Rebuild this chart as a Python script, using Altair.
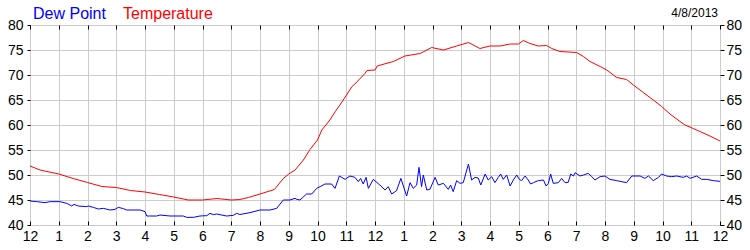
import altair as alt
import pandas as pd

# Temperature readings (hour of day, degrees F)
temp_hours = [0, 0.35, 1.0, 1.5, 2.0, 2.5, 3.0, 3.5, 4.0, 4.5, 5.0, 5.5, 6.0, 6.5, 7.0, 7.3, 7.6,
              8.0, 8.5, 8.81, 9.0, 9.22, 9.51, 9.74, 10.0, 10.15, 10.43, 10.62, 10.78, 11.01, 11.2, 11.3,
              11.65, 11.72, 12.0, 12.08, 12.32, 12.64, 13.04, 13.57, 13.97, 14.38, 14.84, 15.25,
              15.65, 16.0, 16.35, 16.7, 16.99, 17.16, 17.39, 17.68, 17.97, 18.15, 18.43, 19.01,
              19.25, 19.48, 19.83, 20.06, 20.41, 20.75, 20.99, 21.33, 21.68, 21.97, 22.26, 22.61,
              22.78, 23.07, 23.30, 23.65, 24.0]
temp_values = [51.8, 51.0, 50.2, 49.3, 48.5, 47.7, 47.5, 46.9, 46.6, 46.1, 45.6, 45.0, 45.0, 45.3, 45.0, 45.1, 45.5,
               46.2, 47.1, 49.3, 50.2, 51.0, 53.0, 55.1, 57.0, 59.0, 61.0, 62.7, 64.0, 66.0, 67.7, 68.2,
               70.3, 70.9, 71.0, 71.8, 72.2, 72.7, 73.8, 74.3, 75.5, 75.0, 75.8, 76.5,
               75.3, 75.8, 75.8, 76.2, 76.2, 76.9, 76.3, 75.8, 75.9, 75.3, 74.7, 74.5,
               73.7, 72.7, 71.7, 71.0, 69.5, 69.1, 68.0, 66.5, 65.0, 63.7, 62.2, 60.7,
               60.0, 59.3, 58.7, 57.8, 56.8]

# Dew point readings (hour of day, degrees F)
dew_hours = [0, 0.23, 0.52, 0.70, 1.04, 1.28, 1.45, 1.53, 1.68, 1.97, 2.03, 2.20, 2.38, 2.55, 2.78, 2.96,
             3.07, 3.25, 3.36, 3.83, 4.0, 4.06, 4.41, 4.52, 4.87, 5.33, 5.45, 5.68, 5.91, 6.15, 6.26,
             6.38, 6.49, 6.84, 7.07, 7.19, 7.30, 7.65, 8.0, 8.35, 8.58, 8.81, 9.04, 9.22, 9.28, 9.39,
             9.62, 9.80, 9.97, 10.09, 10.26, 10.49, 10.61, 10.76, 10.96, 11.13, 11.30, 11.42, 11.50,
             11.59, 11.69, 11.77, 11.94, 12.17, 12.35, 12.46, 12.58, 12.75, 12.90, 13.10, 13.22,
             13.33, 13.45, 13.53, 13.62, 13.68, 13.80, 13.91, 14.09, 14.20, 14.38, 14.55, 14.63,
             14.72, 14.84, 14.96, 15.07, 15.25, 15.36, 15.48, 15.59, 15.68, 15.83, 15.94, 16.06,
             16.17, 16.29, 16.37, 16.46, 16.58, 16.70, 16.81, 16.93, 17.02, 17.10, 17.22, 17.33,
             17.41, 17.51, 17.68, 17.86, 17.95, 18.03, 18.11, 18.20, 18.38, 18.49, 18.61, 18.72,
             18.81, 18.90, 18.96, 19.13, 19.25, 19.42, 19.54, 19.65, 19.83, 20.0, 20.17, 20.41,
             20.75, 20.93, 21.22, 21.39, 21.51, 21.68, 21.86, 21.97, 22.14, 22.32, 22.49, 22.72,
             22.84, 22.96, 23.19, 23.36, 23.54, 23.77, 24.0]
dew_values = [44.8, 44.67, 44.47, 44.67, 44.67, 44.33, 43.8, 44.13, 43.8, 43.67, 43.8, 43.53, 43.2, 43.33, 43.0, 43.13,
              43.53, 43.27, 43.0, 43.0, 42.67, 41.8, 41.8, 42.0, 41.8, 41.8, 41.53, 41.53, 41.8, 41.87, 42.33,
              42.07, 42.2, 41.8, 41.93, 42.33, 42.1, 42.47, 43.0, 43.0, 43.33, 45.0, 45.0, 45.33, 45.13, 45.0,
              46.2, 46.2, 47.33, 47.67, 48.2, 48.2, 47.33, 49.8, 49.13, 49.8, 49.53, 48.67, 49.33,
              48.2, 49.53, 47.33, 49.13, 48.0, 47.0, 47.67, 46.2, 46.87, 49.33, 45.8, 48.47,
              47.33, 48.0, 51.53, 47.67, 50.0, 47.0, 47.13, 49.53, 48.0, 48.33, 47.13, 48.0,
              46.67, 48.87, 48.33, 48.47, 52.2, 49.0, 49.53, 49.4, 48.0, 50.2, 49.0, 49.67,
              48.47, 49.53, 50.2, 49.13, 50.0, 47.8, 49.0, 50.0, 49.13, 48.87, 49.8, 49.0,
              48.2, 48.47, 48.87, 49.0, 47.8, 48.33, 50.2, 48.33, 48.47, 49.33, 48.47, 48.53,
              50.2, 49.8, 50.47, 49.8, 50.0, 50.33, 49.67, 49.0, 49.67, 49.8, 49.13, 48.87,
              48.47, 49.8, 49.8, 49.33, 49.8, 48.87, 49.53, 50.2, 49.8, 49.67, 49.8, 49.53,
              49.8, 49.33, 49.8, 49.13, 49.13, 48.87, 48.73]

series_names = ["Dew Point", "Temperature"]
date_label = "4/8/2013"
hour_ticks = list(range(25))
y_ticks = [40, 45, 50, 55, 60, 65, 70, 75, 80]

temp_df = pd.DataFrame({"hour": temp_hours, "value": temp_values})
dew_df = pd.DataFrame({"hour": dew_hours, "value": dew_values})

FONT = "Liberation Sans"
label_expr = "datum.value % 12 == 0 ? '12' : '' + (datum.value % 12)"

x_scale = alt.Scale(domain=[0, 24], nice=False, zero=False)
y_scale = alt.Scale(domain=[40, 80], nice=False, zero=False)

temp_line = alt.Chart(temp_df).mark_line(color="#ff0000", strokeWidth=1, clip=True).encode(
    x=alt.X("hour:Q", scale=x_scale, axis=alt.Axis(
        orient="bottom", values=hour_ticks, labelExpr=label_expr, title=None,
        domain=False, grid=True, gridColor="#cccccc", ticks=True, tickSize=4, offset=-4,
        tickColor="#000000", labelPadding=4, labelFontSize=14, labelFont=FONT,
        labelColor="#000000", labelFlush=False, labelOverlap=False)),
    y=alt.Y("value:Q", scale=y_scale, axis=alt.Axis(
        orient="left", values=y_ticks, title=None, domain=False, grid=True,
        gridColor="#cccccc", tickSize=3, tickColor="#000000", labelPadding=4,
        labelFontSize=14, labelFont=FONT, labelColor="#000000", labelFlush=False,
        labelOverlap=False)),
)

dew_line = alt.Chart(dew_df).mark_line(color="#0000ff", strokeWidth=1, clip=True).encode(
    x=alt.X("hour:Q", scale=x_scale, axis=alt.Axis(
        orient="top", values=hour_ticks, labels=False, title=None, domain=False,
        grid=False, ticks=True, tickSize=4, offset=-4, tickColor="#000000")),
    y=alt.Y("value:Q", scale=y_scale, axis=alt.Axis(
        orient="right", values=y_ticks, title=None, domain=False, grid=False,
        tickSize=4, tickColor="#000000", labelPadding=2, labelFontSize=14,
        labelFont=FONT, labelColor="#000000", labelFlush=False, labelOverlap=False)),
)

dew_title = alt.Chart(pd.DataFrame({"t": [series_names[0]]})).mark_text(
    align="left", baseline="alphabetic", fontSize=16, font=FONT, color="#0000ff"
).encode(text="t:N", x=alt.value(3), y=alt.value(-6))

temp_title = alt.Chart(pd.DataFrame({"t": [series_names[1]]})).mark_text(
    align="left", baseline="alphabetic", fontSize=16, font=FONT, color="#ff0000"
).encode(text="t:N", x=alt.value(93), y=alt.value(-6))

date_text = alt.Chart(pd.DataFrame({"t": [date_label]})).mark_text(
    align="right", baseline="alphabetic", fontSize=12, font=FONT, color="#000000"
).encode(text="t:N", x=alt.value(688), y=alt.value(-8))

chart = alt.layer(temp_line, dew_line, dew_title, temp_title, date_text).resolve_axis(
    x="independent", y="independent"
).properties(
    width=690, height=200,
    autosize=alt.AutoSizeParams(type="none"),
    padding={"left": 30, "top": 25, "right": 30, "bottom": 25},
    background="#ffffff",
).configure_view(stroke="#000000", strokeWidth=1)

chart.save("out.html", embed_options={"renderer": "svg", "actions": False})
